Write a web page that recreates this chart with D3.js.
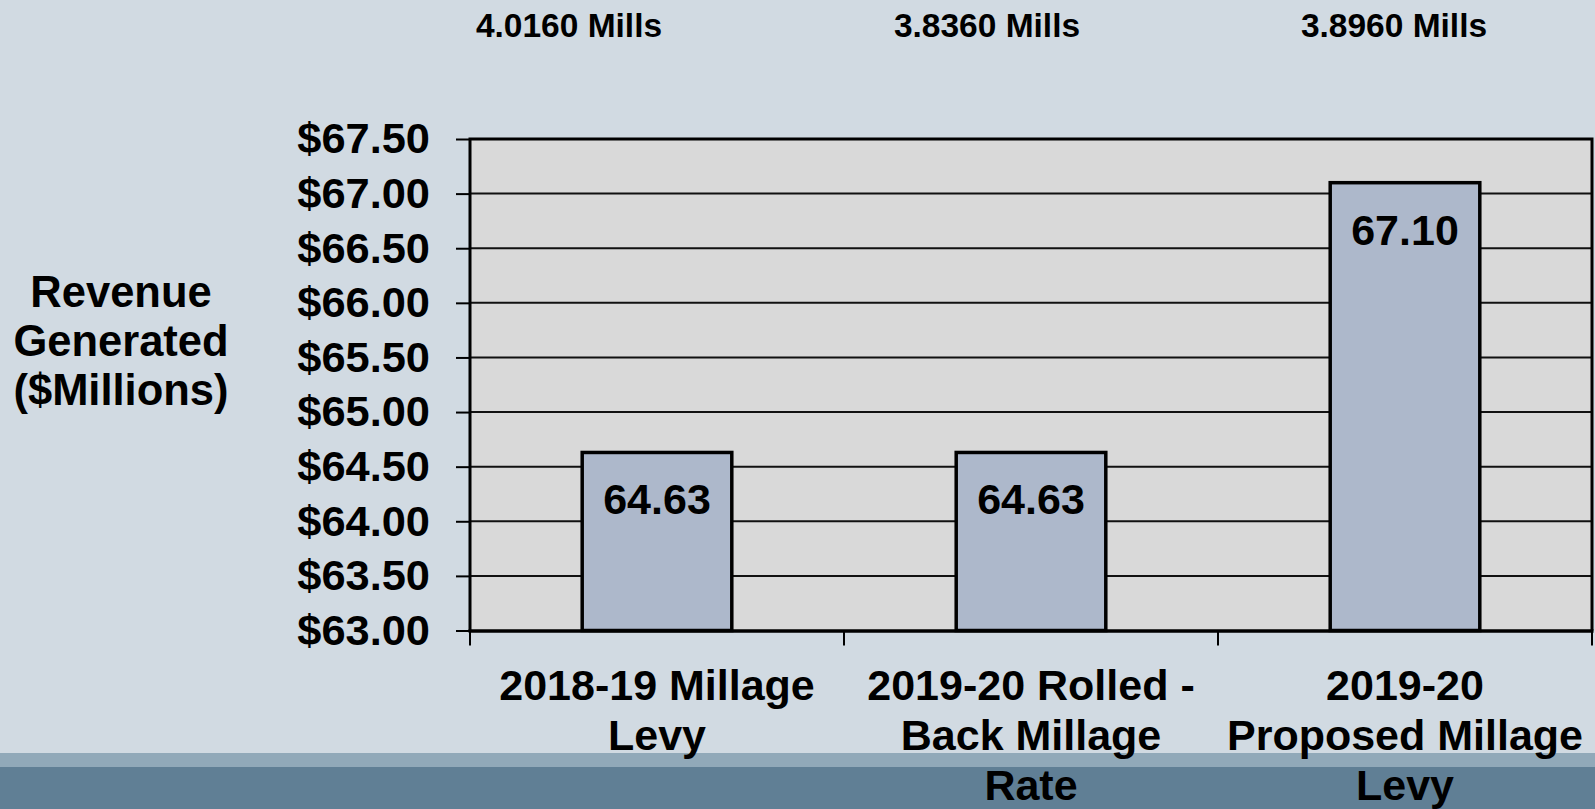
<!DOCTYPE html>
<html>
<head>
<meta charset="utf-8">
<script src="https://cdn.jsdelivr.net/npm/d3@7"></script>
<style>
  body { margin: 0; overflow: hidden; background: #d1dae2; }
  text { font-family: "Liberation Sans", Arial, sans-serif; font-weight: bold; fill: #000; }
</style>
</head>
<body>
<svg></svg>
<script>
// data
let categories = [
  ["2018-19 Millage", "Levy"],
  ["2019-20 Rolled -", "Back Millage", "Rate"],
  ["2019-20", "Proposed Millage", "Levy"]
]
let revenue = [64.63, 64.63, 67.10]
let millage = ["4.0160 Mills", "3.8360 Mills", "3.8960 Mills"]
let yTicks = [63.0, 63.5, 64.0, 64.5, 65.0, 65.5, 66.0, 66.5, 67.0, 67.5]
let yTitle = ["Revenue", "Generated", "($Millions)"]

let width = 1595
let height = 809
let plotLeft = 470, plotRight = 1592, plotTop = 139, plotBottom = 630.5

let svg = d3.select("svg")
  .attr("width", width)
  .attr("height", height)

// bottom band
svg.append("rect").attr("x", 0).attr("y", 753).attr("width", width).attr("height", 14).attr("fill", "#91a9b9")
svg.append("rect").attr("x", 0).attr("y", 767).attr("width", width).attr("height", 42).attr("fill", "#607f95")

let idx = categories.map((d, i) => i)

let xScale = d3.scaleBand()
  .domain(idx)
  .range([plotLeft, plotRight])
  .paddingInner(0.6)
  .paddingOuter(0.3)

let yScale = d3.scaleLinear()
  .domain([63, 67.5])
  .range([plotBottom, plotTop])

// plot area
svg.append("rect")
  .attr("x", plotLeft).attr("y", plotTop)
  .attr("width", plotRight - plotLeft).attr("height", plotBottom - plotTop)
  .attr("fill", "#d9d9d9")

// gridlines
svg.append("g")
  .selectAll("line")
  .data(yTicks.slice(1, -1))
  .enter()
  .append("line")
  .attr("x1", plotLeft).attr("x2", plotRight)
  .attr("y1", d => yScale(d)).attr("y2", d => yScale(d))
  .attr("stroke", "#111")
  .attr("stroke-width", 2)

// bars
svg.append("g")
  .selectAll("rect")
  .data(revenue)
  .enter()
  .append("rect")
  .attr("x", (d, i) => xScale(i))
  .attr("y", d => yScale(d))
  .attr("width", xScale.bandwidth())
  .attr("height", d => yScale(63) - yScale(d))
  .attr("fill", "#adb8cb")
  .attr("stroke", "#000")
  .attr("stroke-width", 3.5)

// border: left, top, right
svg.append("path")
  .attr("d", `M${plotLeft},${plotBottom}V${plotTop}H${plotRight}V${plotBottom}`)
  .attr("fill", "none")
  .attr("stroke", "#000")
  .attr("stroke-width", 3)

// y axis
let yAxis = d3.axisLeft(yScale)
  .tickValues(yTicks)
  .tickSize(14)
  .tickPadding(26)
  .tickFormat(d => "$" + d.toFixed(2))

let gy = svg.append("g")
  .attr("transform", "translate(" + plotLeft + ",0)")
  .call(yAxis)
gy.attr("font-family", null).attr("font-size", null)
gy.select(".domain").remove()
gy.selectAll("line").attr("stroke", "#000").attr("stroke-width", 2)
gy.selectAll("text")
  .attr("font-size", "43.4px")
  .attr("fill", "#000")

// x axis line and ticks at band edges
let step = xScale.step()
let gap = step - xScale.bandwidth()
let edges = idx.map(i => xScale(i) - gap / 2).concat([xScale(idx.length - 1) + xScale.bandwidth() + gap / 2])

svg.append("line")
  .attr("x1", plotLeft - 1.5).attr("x2", plotRight + 1.5)
  .attr("y1", plotBottom + 0.5).attr("y2", plotBottom + 0.5)
  .attr("stroke", "#000").attr("stroke-width", 3.5)

svg.append("g")
  .selectAll("line")
  .data(edges)
  .enter()
  .append("line")
  .attr("x1", d => d).attr("x2", d => d)
  .attr("y1", plotBottom).attr("y2", plotBottom + 15)
  .attr("stroke", "#000").attr("stroke-width", 2)

// category labels
let catG = svg.append("g")
  .selectAll("text")
  .data(categories)
  .enter()
  .append("text")
  .attr("text-anchor", "middle")
  .attr("font-size", "43px")
  .attr("x", (d, i) => xScale(i) + xScale.bandwidth() / 2)
  .attr("y", 700)

catG.selectAll("tspan")
  .data((d, i) => d.map(t => ({ t: t, i: i })))
  .enter()
  .append("tspan")
  .attr("x", d => xScale(d.i) + xScale.bandwidth() / 2)
  .attr("dy", (d, j) => j === 0 ? 0 : 50)
  .text(d => d.t)

// value labels
svg.append("g")
  .selectAll("text")
  .data(revenue)
  .enter()
  .append("text")
  .attr("text-anchor", "middle")
  .attr("font-size", "43px")
  .attr("x", (d, i) => xScale(i) + xScale.bandwidth() / 2)
  .attr("y", d => yScale(d) + 62)
  .text(d => d.toFixed(2))

// millage labels above the chart
let millsX = [569, 987, 1394]
svg.append("g")
  .selectAll("text")
  .data(millage)
  .enter()
  .append("text")
  .attr("text-anchor", "middle")
  .attr("font-size", "33.5px")
  .attr("x", (d, i) => millsX[i])
  .attr("y", 37)
  .text(d => d)

// y title
svg.append("text")
  .attr("text-anchor", "middle")
  .attr("font-size", "43.5px")
  .selectAll("tspan")
  .data(yTitle)
  .enter()
  .append("tspan")
  .attr("x", 121)
  .attr("y", (d, i) => 307 + i * 49)
  .text(d => d)
</script>
</body>
</html>
